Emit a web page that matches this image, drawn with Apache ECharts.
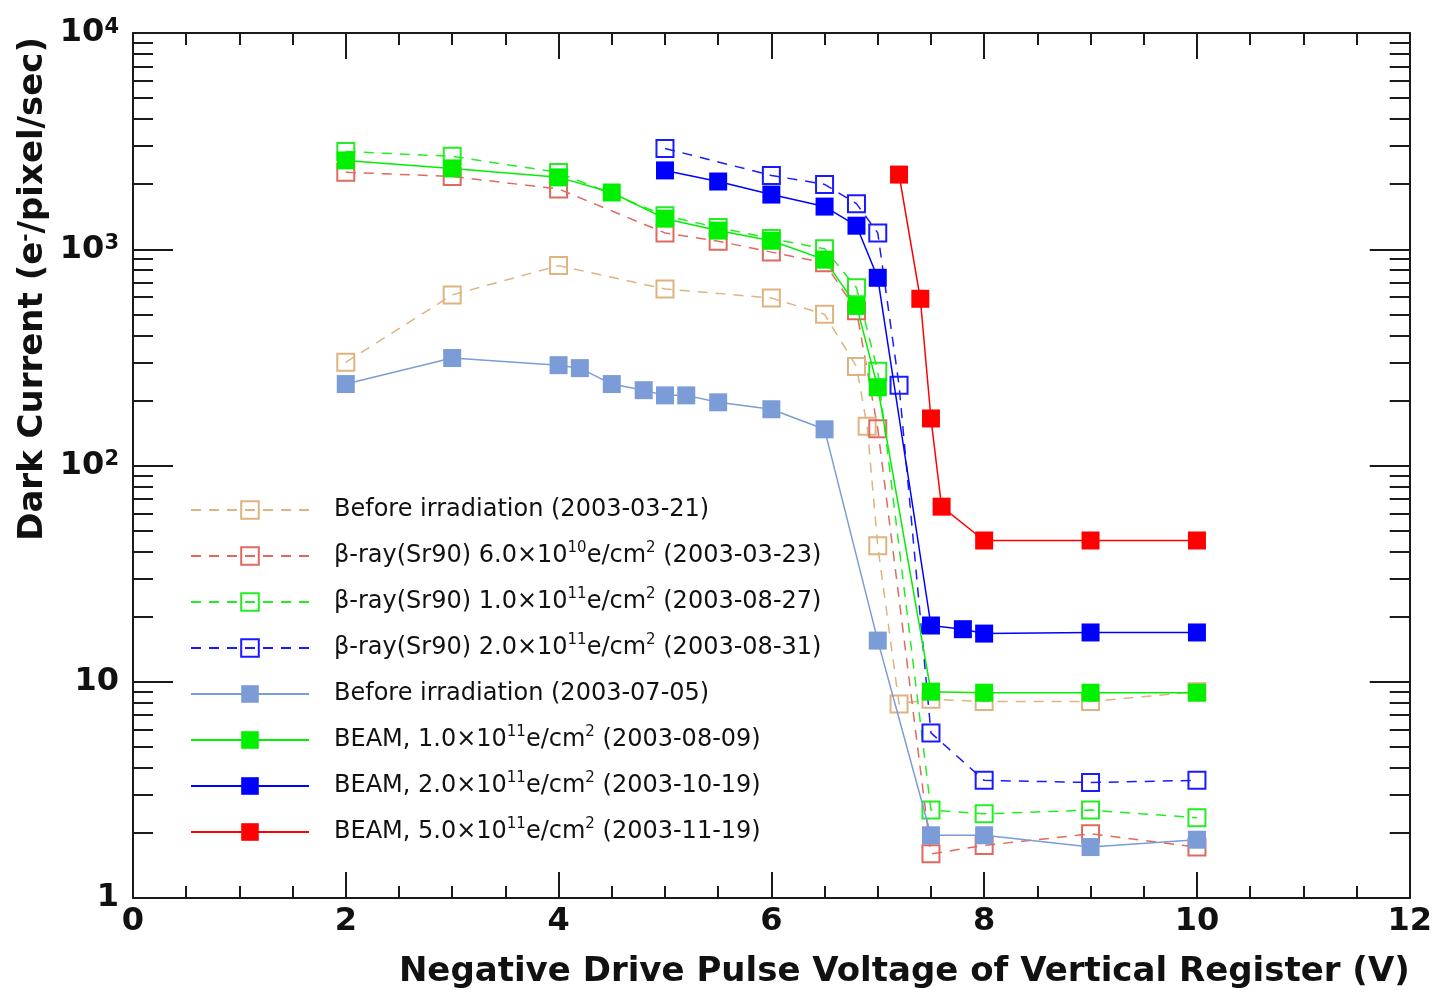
<!DOCTYPE html>
<html><head><meta charset="utf-8">
<script src="https://cdn.jsdelivr.net/npm/echarts@6/dist/echarts.min.js"></script>
<style>html,body{margin:0;padding:0;background:#fff}#c{width:1435px;height:993px}</style>
</head><body><div id="c"></div>
<script>
// ---- data ----
const seriesNames = [
  'Before irradiation (2003-03-21)',
  'β-ray(Sr90) 6.0×10^10e/cm^2 (2003-03-23)',
  'β-ray(Sr90) 1.0×10^11e/cm^2 (2003-08-27)',
  'β-ray(Sr90) 2.0×10^11e/cm^2 (2003-08-31)',
  'Before irradiation (2003-07-05)',
  'BEAM, 1.0×10^11e/cm^2 (2003-08-09)',
  'BEAM, 2.0×10^11e/cm^2 (2003-10-19)',
  'BEAM, 5.0×10^11e/cm^2 (2003-11-19)'
];
const legendLabels = [
  'Before irradiation (2003-03-21)',
  'β-ray(Sr90) 6.0×10{sup|10}e/cm{sup|2} (2003-03-23)',
  'β-ray(Sr90) 1.0×10{sup|11}e/cm{sup|2} (2003-08-27)',
  'β-ray(Sr90) 2.0×10{sup|11}e/cm{sup|2} (2003-08-31)',
  'Before irradiation (2003-07-05)',
  'BEAM, 1.0×10{sup|11}e/cm{sup|2} (2003-08-09)',
  'BEAM, 2.0×10{sup|11}e/cm{sup|2} (2003-10-19)',
  'BEAM, 5.0×10{sup|11}e/cm{sup|2} (2003-11-19)'
];
const seriesColors = ['#DDB47F', '#E06A60', '#22EE22', '#1A1AFF', '#7B9CD6', '#00F000', '#0000FF', '#FF0000'];
const seriesOpen = [true, true, true, true, false, false, false, false];

const xBefore0321 = [2, 3, 4, 5, 6, 6.5, 6.8, 6.9, 7.0, 7.2, 7.5, 8, 9, 10];
const yBefore0321 = [300, 615, 840, 655, 595, 500, 287, 152, 42.5, 7.9, 8.3, 8.1, 8.1, 9.0];

const xSr6e10 = [2, 3, 4, 5, 5.5, 6, 6.5, 6.8, 7.0, 7.5, 8, 9, 10];
const ySr6e10 = [2270, 2170, 1900, 1190, 1090, 970, 865, 520, 148, 1.6, 1.75, 1.98, 1.72];

const xSr1e11 = [2, 3, 4, 5, 5.5, 6, 6.5, 6.8, 7.0, 7.5, 8, 9, 10];
const ySr1e11 = [2830, 2690, 2265, 1430, 1260, 1120, 1005, 663, 273, 2.55, 2.45, 2.55, 2.35];

const xSr2e11 = [5, 6, 6.5, 6.8, 7.0, 7.2, 7.5, 8, 9, 10];
const ySr2e11 = [2925, 2195, 1995, 1625, 1190, 235, 5.8, 3.5, 3.42, 3.5];

const xBefore0705 = [2, 3, 4, 4.2, 4.5, 4.8, 5.0, 5.2, 5.5, 6, 6.5, 7.0, 7.5, 8, 9, 10];
const yBefore0705 = [238, 314, 291, 282, 238, 223, 211, 211, 196, 182, 147, 15.5, 1.95, 1.95, 1.72, 1.86];

const xBeam1e11 = [2, 3, 4, 4.5, 5, 5.5, 6, 6.5, 6.8, 7.0, 7.5, 8, 9, 10];
const yBeam1e11 = [2575, 2365, 2150, 1830, 1385, 1220, 1095, 895, 547, 230, 9.0, 8.9, 8.9, 8.9];

const xBeam2e11 = [5, 5.5, 6, 6.5, 6.8, 7.0, 7.5, 7.8, 8, 9, 10];
const yBeam2e11 = [2315, 2057, 1790, 1575, 1285, 738, 18.2, 17.5, 16.7, 16.9, 16.9];

const xBeam5e11 = [7.2, 7.4, 7.5, 7.6, 8, 9, 10];
const yBeam5e11 = [2215, 590, 165, 64.5, 45, 45, 45];

const seriesX = [xBefore0321, xSr6e10, xSr1e11, xSr2e11, xBefore0705, xBeam1e11, xBeam2e11, xBeam5e11];
const seriesY = [yBefore0321, ySr6e10, ySr1e11, ySr2e11, yBefore0705, yBeam1e11, yBeam2e11, yBeam5e11];

const yTickValues = [1, 10, 100, 1000, 10000];
const yTickLabels = ['1', '10', '10{sup|2}', '10{sup|3}', '10{sup|4}'];
const yMinorValues = [];
for (let d = 0; d < 4; d++) for (let k = 2; k <= 9; k++) yMinorValues.push(k * Math.pow(10, d));

const xTitle = 'Negative Drive Pulse Voltage of Vertical Register (V)';
const yTitle = 'Dark Current (e{sup|-}/pixel/sec)';

// ---- chart ----
const FONT = 'DejaVu Sans';
const AX = '#1a1a1a';
const chart = echarts.init(document.getElementById('c'), null, {renderer: 'canvas'});

const gridL = 133, gridT = 33, gridR = 1410, gridB = 898;

function xAxisDef(pos, labels) {
  return {
    type: 'value', position: pos, min: 0, max: 12, interval: 2,
    axisLine: {show: true, onZero: false, lineStyle: {color: AX, width: 2}},
    axisTick: {show: true, inside: true, length: 26, lineStyle: {color: AX, width: 2}},
    minorTick: {show: true, splitNumber: 4, length: 12, lineStyle: {color: AX, width: 2}},
    splitLine: {show: false}, minorSplitLine: {show: false},
    axisLabel: {show: labels, fontFamily: FONT, fontWeight: 'bold', fontSize: 32, color: '#111', margin: 8},
    name: labels ? xTitle : '', nameLocation: 'end', nameGap: 0,
    nameTextStyle: {fontFamily: FONT, fontWeight: 'bold', fontSize: 34, color: '#111', align: 'right', verticalAlign: 'top', padding: [57, 0, 0, 0]}
  };
}
function yMajor(pos, labels) {
  return {
    type: 'log', logBase: 10, position: pos, min: 1, max: 10000,
    axisLine: {show: true, onZero: false, lineStyle: {color: AX, width: 2}},
    axisTick: {show: true, inside: true, length: 40, lineStyle: {color: AX, width: 2}},
    splitLine: {show: false},
    axisLabel: {
      show: labels, margin: 14, fontFamily: FONT, fontWeight: 'bold', fontSize: 32, color: '#111',
      formatter: v => { const i = yTickValues.findIndex(t => Math.abs(t - v) < 1e-6 * t); return i >= 0 ? yTickLabels[i] : ''; },
      rich: {sup: {fontFamily: FONT, fontWeight: 'bold', fontSize: 21, color: '#111', verticalAlign: 'top', lineHeight: 14}}
    }
  };
}
function yMinor(pos) {
  return {
    type: 'value', position: pos, min: 0, max: 4,
    axisLine: {show: false, onZero: false},
    axisTick: {show: true, inside: true, length: 20, customValues: yMinorValues.map(v => Math.log10(v)), lineStyle: {color: AX, width: 2}},
    axisLabel: {show: false}, splitLine: {show: false}
  };
}

const series = seriesNames.map((name, i) => {
  const c = seriesColors[i], open = seriesOpen[i];
  return {
    type: 'line', name, xAxisIndex: 0, yAxisIndex: 0,
    data: seriesX[i].map((x, j) => [x, seriesY[i][j]]),
    symbol: 'rect', symbolSize: open ? 17 : 18,
    lineStyle: {color: c, width: 1.5, type: open ? [10, 8] : 'solid'},
    itemStyle: open ? {color: 'rgba(255,255,255,0)', borderColor: c, borderWidth: 2} : {color: c},
    emphasis: {disabled: true}, z: open ? 2 : 3, animation: false
  };
});

chart.setOption({
  backgroundColor: '#fff',
  animation: false,
  grid: {left: gridL, top: gridT, right: 1435 - gridR, bottom: 993 - gridB, containLabel: false},
  xAxis: [xAxisDef('bottom', true), xAxisDef('top', false)],
  yAxis: [yMajor('left', true), yMinor('left'), yMajor('right', false), yMinor('right')],
  legend: {
    orient: 'vertical', left: 190, top: 495, padding: 0, itemGap: 16,
    itemWidth: 118, itemHeight: 22, selectedMode: false,
    data: seriesNames,
    formatter: n => legendLabels[seriesNames.indexOf(n)],
    textStyle: {
      fontFamily: FONT, fontSize: 24, color: '#111', lineHeight: 30, padding: [0, 0, 0, 20],
      rich: {sup: {fontFamily: FONT, fontSize: 15, color: '#111', lineHeight: 16, verticalAlign: 'top'}}
    }
  },
  graphic: [{
    type: 'text', x: 33, y: 37, rotation: Math.PI / 2, silent: true,
    style: {
      text: yTitle, fontFamily: FONT, fontWeight: 'bold', fontSize: 34, fill: '#111',
      align: 'right', verticalAlign: 'middle',
      rich: {sup: {fontFamily: FONT, fontWeight: 'bold', fontSize: 20, fill: '#111', verticalAlign: 'top', lineHeight: 16}}
    }
  }],
  series
});
</script>
</body></html>
